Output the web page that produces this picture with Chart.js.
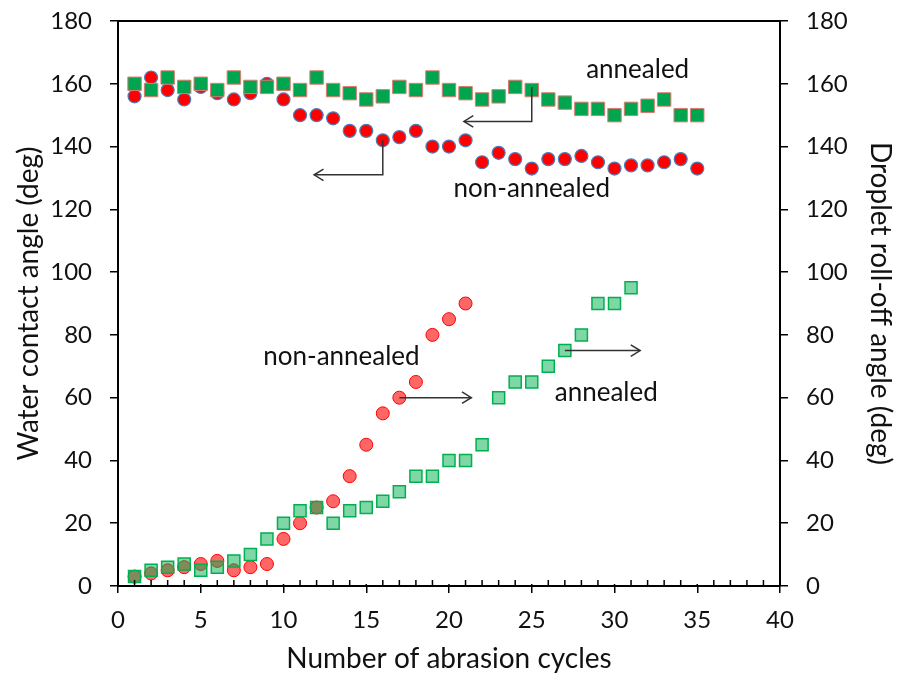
<!DOCTYPE html>
<html>
<head>
<meta charset="utf-8">
<script src="https://cdn.jsdelivr.net/npm/chart.js@4"></script>
<style>
  body { margin: 0; background: #fff; }
  canvas { display: block; }
</style>
</head>
<body>
<canvas id="chart" width="898" height="674"></canvas>
<script>
// abrasion cycles
const cycles = [1, 2, 3, 4, 5, 6, 7, 8, 9, 10, 11, 12, 13, 14, 15, 16, 17, 18, 19, 20,
                21, 22, 23, 24, 25, 26, 27, 28, 29, 30, 31, 32, 33, 34, 35];

// water contact angle (left axis)
const contactAnnealed = [160, 158, 162, 159, 160, 158, 162, 159, 159, 160, 158, 162, 158, 157, 155, 156, 159, 158,
                         162, 158, 157, 155, 156, 159, 158, 155, 154, 152, 152, 150, 152, 153, 155, 150, 150];
const contactNonAnnealed = [156, 162, 158, 155, 159, 157, 155, 157, 160, 155, 150, 150, 149, 145, 145, 142, 143, 145,
                            140, 140, 142, 135, 138, 136, 133, 136, 136, 137, 135, 133, 134, 134, 135, 136, 133];

// droplet roll-off angle (right axis)
const rolloffNonAnnealed = [3, 4, 5, 6, 7, 8, 5, 6, 7, 15, 20, 25, 27, 35, 45, 55, 60, 65, 80, 85, 90];
const rolloffAnnealed = [3, 5, 6, 7, 5, 6, 8, 10, 15, 20, 24, 25, 20, 24, 25, 27, 30, 35, 35, 40,
                         40, 45, 60, 65, 65, 70, 75, 80, 90, 90, 95];

const yTicks = [0, 20, 40, 60, 80, 100, 120, 140, 160, 180];
const xTicks = [0, 5, 10, 15, 20, 25, 30, 35, 40];

// text labels and arrows, in data units (axis: y = left, y1 = right)
const notes = [
    { text: 'annealed', x: 31.4, y: 164.5, axis: 'y' },
    { text: 'non-annealed', x: 25.0, y: 126.5, axis: 'y' },
    { text: 'non-annealed', x: 13.5, y: 73.0, axis: 'y1' },
    { text: 'annealed', x: 29.5, y: 61.5, axis: 'y1' }
];
const arrows = [
    { axis: 'y', path: [[25, 159], [25, 148], [20.9, 148]] },
    { axis: 'y', path: [[16, 142], [16, 131], [11.85, 131]] },
    { axis: 'y1', path: [[17, 60], [21.35, 60]] },
    { axis: 'y1', path: [[27, 75], [31.55, 75]] }
];

const FONT = 'Lato, "Open Sans", sans-serif';

const toPoints = (vals) => vals.map((v, i) => ({ x: cycles[i], y: v }));

// frame top line, inside minor ticks, notes and arrows
const extras = {
    id: 'extras',
    afterDraw(chart) {
        const ctx = chart.ctx;
        const area = chart.chartArea;
        const xs = chart.scales.x;
        ctx.save();
        ctx.strokeStyle = '#000';
        ctx.lineWidth = 2;
        ctx.beginPath();
        ctx.moveTo(area.left, area.top);
        ctx.lineTo(area.right, area.top);
        ctx.stroke();

        ctx.lineWidth = 1.5;
        ctx.beginPath();
        for (let v = xs.min; v <= xs.max; v++) {
            const px = xs.getPixelForValue(v);
            ctx.moveTo(px, area.bottom);
            ctx.lineTo(px, area.bottom - (v % 5 === 0 ? 2 : 6));
        }
        ctx.stroke();

        ctx.fillStyle = '#111';
        ctx.font = '26px ' + FONT;
        ctx.textAlign = 'center';
        ctx.textBaseline = 'middle';
        notes.forEach(n => {
            const ys = chart.scales[n.axis];
            ctx.fillText(n.text, xs.getPixelForValue(n.x), ys.getPixelForValue(n.y));
        });

        ctx.strokeStyle = '#333';
        ctx.lineWidth = 1.5;
        arrows.forEach(a => {
            const ys = chart.scales[a.axis];
            const pts = a.path.map(p => [xs.getPixelForValue(p[0]), ys.getPixelForValue(p[1])]);
            ctx.beginPath();
            ctx.moveTo(pts[0][0], pts[0][1]);
            for (let i = 1; i < pts.length; i++) ctx.lineTo(pts[i][0], pts[i][1]);
            ctx.stroke();
            const end = pts[pts.length - 1];
            const prev = pts[pts.length - 2];
            const ang = Math.atan2(end[1] - prev[1], end[0] - prev[0]);
            ctx.beginPath();
            ctx.moveTo(end[0] - 11 * Math.cos(ang - 0.55), end[1] - 11 * Math.sin(ang - 0.55));
            ctx.lineTo(end[0], end[1]);
            ctx.lineTo(end[0] - 11 * Math.cos(ang + 0.55), end[1] - 11 * Math.sin(ang + 0.55));
            ctx.stroke();
        });
        ctx.restore();
    }
};

const yAxis = (position, titleText, titlePad) => ({
    position: position,
    min: 0,
    max: 180,
    afterBuildTicks: s => { s.ticks = yTicks.map(v => ({ value: v })); },
    afterFit: s => { s.width = 118; s.paddingTop = 0; s.paddingBottom = 0; },
    border: { display: true, color: '#000', width: 2 },
    grid: { display: true, drawOnChartArea: false, drawTicks: true, tickLength: 8, color: '#000', lineWidth: 1.5 },
    ticks: { color: '#111', padding: 18, font: { family: FONT, size: 24 } },
    title: { display: true, text: titleText, color: '#111', padding: titlePad, font: { family: FONT, size: 28 } }
});

new Chart(document.getElementById('chart'), {
    type: 'scatter',
    data: {
        datasets: [
            {
                label: 'contact annealed',
                data: toPoints(contactAnnealed),
                yAxisID: 'y',
                order: 0,
                pointStyle: 'rect',
                pointRadius: 9.5,
                backgroundColor: '#00A550',
                borderColor: '#E07A6E',
                borderWidth: 1
            },
            {
                label: 'contact non-annealed',
                data: toPoints(contactNonAnnealed),
                yAxisID: 'y',
                order: 1,
                pointStyle: 'circle',
                pointRadius: 6.5,
                backgroundColor: '#FF0000',
                borderColor: '#4A7EBB',
                borderWidth: 1.2
            },
            {
                label: 'roll-off annealed',
                data: toPoints(rolloffAnnealed),
                yAxisID: 'y1',
                order: 2,
                pointStyle: 'rect',
                pointRadius: 8.5,
                backgroundColor: 'rgba(0,176,80,0.5)',
                borderColor: '#00B050',
                borderWidth: 1.5
            },
            {
                label: 'roll-off non-annealed',
                data: toPoints(rolloffNonAnnealed),
                yAxisID: 'y1',
                order: 3,
                pointStyle: 'circle',
                pointRadius: 6.5,
                backgroundColor: 'rgba(255,0,0,0.6)',
                borderColor: '#FF0000',
                borderWidth: 1
            }
        ]
    },
    options: {
        responsive: false,
        animation: false,
        layout: { padding: { top: 21, left: 0, right: 0, bottom: 0 } },
        plugins: { legend: { display: false }, tooltip: { enabled: false } },
        scales: {
            x: {
                type: 'linear',
                min: 0,
                max: 40,
                afterBuildTicks: s => { s.ticks = xTicks.map(v => ({ value: v })); },
                afterFit: s => { s.height = 88; s.paddingLeft = 0; s.paddingRight = 0; },
                border: { display: true, color: '#000', width: 2 },
                grid: { display: true, drawOnChartArea: false, drawTicks: true, tickLength: 7, color: '#000', lineWidth: 1.5 },
                ticks: { color: '#111', padding: 13, maxRotation: 0, font: { family: FONT, size: 24 } },
                title: { display: true, text: 'Number of abrasion cycles', color: '#111',
                         padding: { top: 0, bottom: -2 }, font: { family: FONT, size: 28 } }
            },
            y: yAxis('left', 'Water contact angle (deg)', { top: 12, bottom: 0 }),
            y1: yAxis('right', 'Droplet roll-off angle (deg)', { top: 1, bottom: 0 })
        }
    },
    plugins: [extras]
});
</script>
</body>
</html>
